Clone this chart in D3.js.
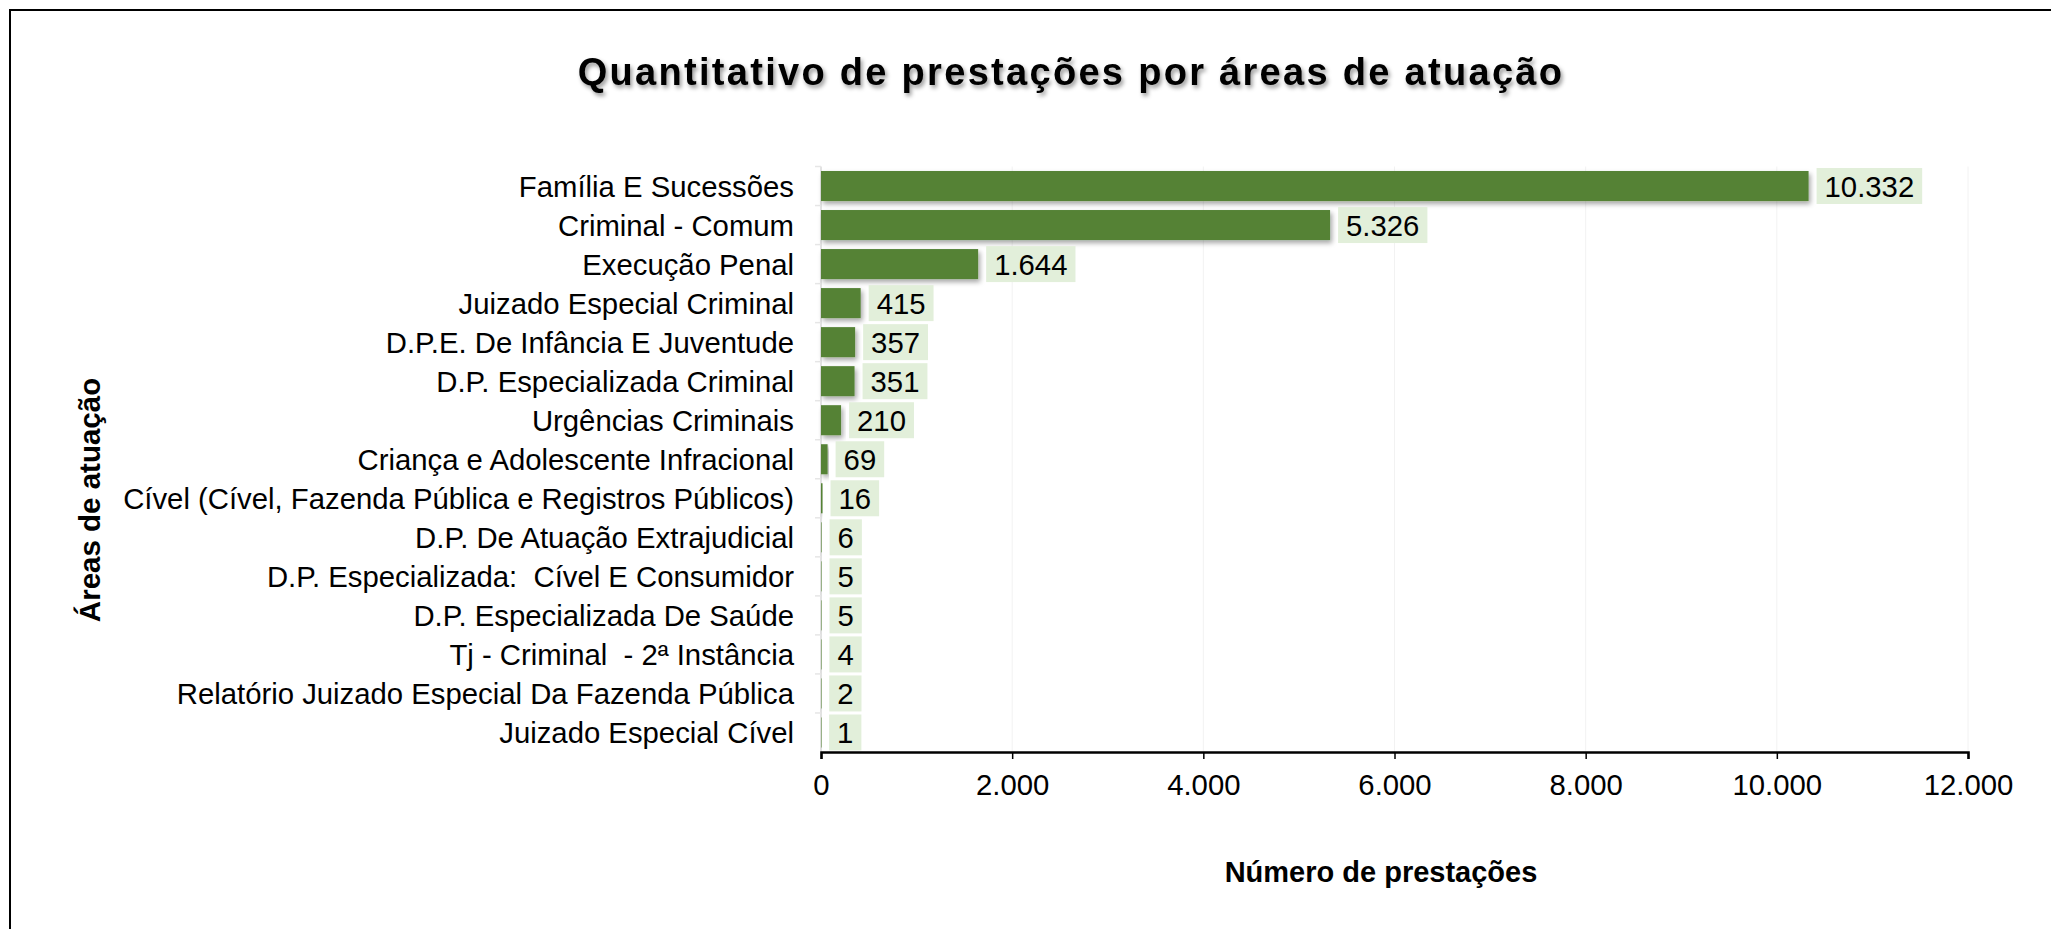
<!DOCTYPE html>
<html>
<head>
<meta charset="utf-8">
<script src="https://cdn.jsdelivr.net/npm/d3@7"></script>
<style>
  html, body { margin: 0; padding: 0; background: #fff; overflow: hidden; }
  svg { display: block; font-family: "Liberation Sans", Arial, sans-serif; }
</style>
</head>
<body>
<div id="chart"></div>
<script>
// data, top to bottom as in the chart
const categories = [
  'Família E Sucessões',
  'Criminal - Comum',
  'Execução Penal',
  'Juizado Especial Criminal',
  'D.P.E. De Infância E Juventude',
  'D.P. Especializada Criminal',
  'Urgências Criminais',
  'Criança e Adolescente Infracional',
  'Cível (Cível, Fazenda Pública e Registros Públicos)',
  'D.P. De Atuação Extrajudicial',
  'D.P. Especializada:  Cível E Consumidor',
  'D.P. Especializada De Saúde',
  'Tj - Criminal  - 2ª Instância',
  'Relatório Juizado Especial Da Fazenda Pública',
  'Juizado Especial Cível'
]
const values = [10332, 5326, 1644, 415, 357, 351, 210, 69, 16, 6, 5, 5, 4, 2, 1]
const xTicks = [0, 2000, 4000, 6000, 8000, 10000, 12000]

const title = 'Quantitativo de prestações por áreas de atuação'
const xTitle = 'Número de prestações'
const yTitle = 'Áreas de atuação'

const width = 2051
const height = 929
const margin = { top: 166.5, right: 83, bottom: 177, left: 821 }

const fmt = (v) => d3.format(',')(v).replace(/,/g, '.')

const svg = d3
  .select('#chart')
  .append('svg')
  .attr('width', width)
  .attr('height', height)
  .attr('viewBox', [0, 0, width, height])

const defs = svg.append('defs')
defs.append('filter')
  .attr('id', 'barShadow')
  .attr('x', '-10%').attr('y', '-30%').attr('width', '130%').attr('height', '170%')
  .append('feDropShadow')
  .attr('dx', 2).attr('dy', 3).attr('stdDeviation', 2.5)
  .attr('flood-color', '#000').attr('flood-opacity', 0.35)
defs.append('filter')
  .attr('id', 'textShadow')
  .attr('x', '-5%').attr('y', '-30%').attr('width', '110%').attr('height', '170%')
  .append('feDropShadow')
  .attr('dx', 2).attr('dy', 3).attr('stdDeviation', 2)
  .attr('flood-color', '#000').attr('flood-opacity', 0.4)

// outer frame (runs off the right and bottom edge)
svg.append('rect')
  .attr('x', 10).attr('y', 10)
  .attr('width', 2060).attr('height', 940)
  .attr('fill', 'none')
  .attr('stroke', '#000')
  .attr('stroke-width', 2)

const x = d3.scaleLinear()
  .domain([0, 12000])
  .range([margin.left, width - margin.right])

const y = d3.scaleBand()
  .domain(categories)
  .range([margin.top, height - margin.bottom])
  .paddingInner(0.23)
  .paddingOuter(0.115)

// faint vertical gridlines
svg.append('g')
  .selectAll('line')
  .data(xTicks.slice(1))
  .join('line')
  .attr('x1', (d) => x(d)).attr('x2', (d) => x(d))
  .attr('y1', margin.top).attr('y2', height - margin.bottom)
  .attr('stroke', '#f2f2f2')
  .attr('stroke-width', 1)

// y axis: light grey line with ticks at band edges
const yAxisG = svg.append('g')
yAxisG.append('line')
  .attr('x1', x(0)).attr('x2', x(0))
  .attr('y1', margin.top).attr('y2', height - margin.bottom)
  .attr('stroke', '#d9d9d9')
  .attr('stroke-width', 1.5)
yAxisG.selectAll('.edge')
  .data(categories)
  .join('line')
  .attr('class', 'edge')
  .attr('x1', x(0) - 6).attr('x2', x(0))
  .attr('y1', (d) => y(d) - y.step() * y.paddingInner() / 2)
  .attr('y2', (d) => y(d) - y.step() * y.paddingInner() / 2)
  .attr('stroke', '#e6e6e6')
  .attr('stroke-width', 1.5)

// category labels
svg.append('g')
  .selectAll('text')
  .data(categories)
  .join('text')
  .attr('x', x(0) - 27)
  .attr('y', (d) => y(d) + y.bandwidth() / 2)
  .attr('dy', '0.36em')
  .attr('text-anchor', 'end')
  .attr('font-size', 29.3)
  .attr('fill', '#000')
  .style('white-space', 'pre')
  .text((d) => d)

// bars
svg.append('g')
  .selectAll('rect')
  .data(values)
  .join('rect')
  .attr('x', x(0))
  .attr('y', (d, i) => y(categories[i]))
  .attr('width', (d) => Math.max(0.5, x(d) - x(0)))
  .attr('height', y.bandwidth())
  .attr('fill', '#548235')
  .attr('filter', 'url(#barShadow)')

// value labels in light green boxes
const lab = svg.append('g')
  .selectAll('g')
  .data(values)
  .join('g')
  .attr('transform', (d, i) => `translate(${x(d) + 8},${y(categories[i]) + y.bandwidth() / 2})`)

lab.append('text')
  .attr('x', 8)
  .attr('dy', '0.36em')
  .attr('font-size', 29.3)
  .attr('fill', '#000')
  .text((d) => fmt(d))

lab.each(function () {
  const g = d3.select(this)
  const w = g.select('text').node().getComputedTextLength()
  g.insert('rect', 'text')
    .attr('x', 0)
    .attr('y', -18)
    .attr('width', w + 16)
    .attr('height', 36)
    .attr('fill', '#e2efda')
})

// x axis
const xAxis = svg.append('g')
  .attr('transform', `translate(0,${height - margin.bottom})`)
  .call(d3.axisBottom(x).tickValues(xTicks).tickFormat(fmt).tickSize(7).tickPadding(15))
xAxis.select('.domain').attr('stroke', '#000').attr('stroke-width', 2.5)
xAxis.selectAll('.tick line').attr('stroke', '#000').attr('stroke-width', 1.5)
xAxis.selectAll('.tick text')
  .attr('font-size', 29.3)
  .attr('font-family', '"Liberation Sans", Arial, sans-serif')
  .attr('fill', '#000')

// titles
svg.append('text')
  .attr('x', 1071)
  .attr('y', 85)
  .attr('text-anchor', 'middle')
  .attr('font-size', 38)
  .attr('font-weight', 'bold')
  .attr('letter-spacing', 2.3)
  .attr('filter', 'url(#textShadow)')
  .text(title)

svg.append('text')
  .attr('x', 1381)
  .attr('y', 882)
  .attr('text-anchor', 'middle')
  .attr('font-size', 29)
  .attr('font-weight', 'bold')
  .text(xTitle)

svg.append('text')
  .attr('transform', 'translate(100,500) rotate(-90)')
  .attr('text-anchor', 'middle')
  .attr('font-size', 29.5)
  .attr('font-weight', 'bold')
  .text(yTitle)
</script>
</body>
</html>
